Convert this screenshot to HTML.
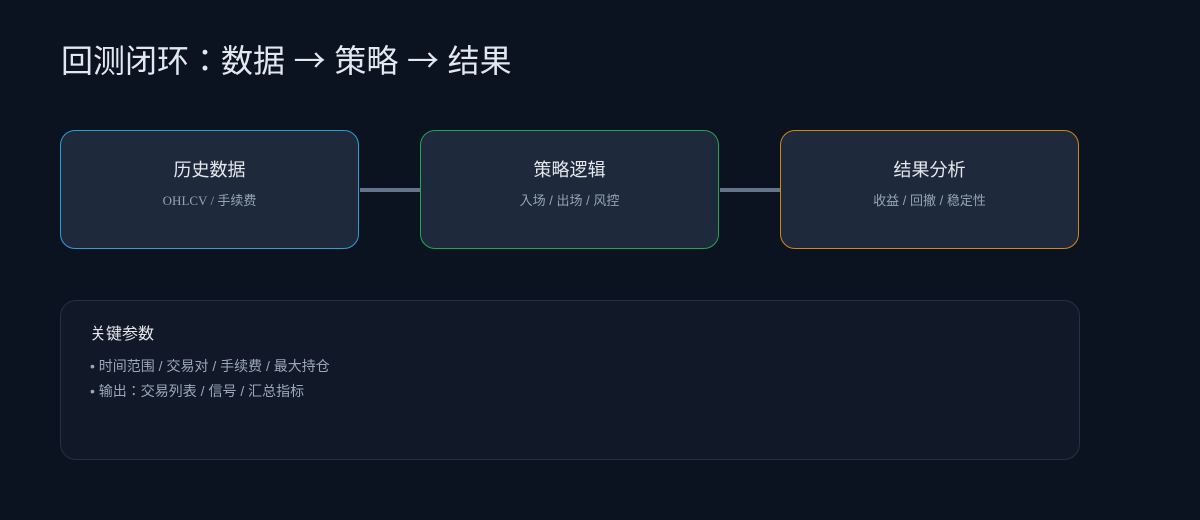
<!DOCTYPE html>
<html>
<head>
<meta charset="utf-8">
<style>
  html,body{margin:0;padding:0;}
  body{width:1200px;height:520px;background:#0b1220;position:relative;overflow:hidden;
    font-family:"Liberation Sans","Noto Sans CJK JP",sans-serif;}
  .abs{position:absolute;}
  .title{left:61px;top:38px;font-size:32px;line-height:42px;color:#e2e8f0;white-space:nowrap;
    font-family:"Noto Sans CJK JP",sans-serif;word-spacing:1.5px;}
  .box{position:absolute;top:130px;width:297px;height:117px;border-radius:15px;background:#1e293b;border:1.5px solid;}
  .bt{position:absolute;left:0;right:0;top:27px;text-align:center;font-size:18px;line-height:24px;color:#e5e7eb;}
  .bs{position:absolute;left:0;right:0;top:61px;text-align:center;font-size:13px;line-height:18px;color:#94a3b8;}
  .conn{position:absolute;top:188px;height:4px;background:#64748b;}
  .panel{position:absolute;left:60px;top:300px;width:1018px;height:158px;border-radius:16px;background:#111827;border:1px solid #263244;}
  .ph{position:absolute;left:90px;top:324px;font-size:16px;line-height:22px;color:#e5e7eb;}
  .li{position:absolute;left:90px;font-size:14px;line-height:20px;color:#9aa8bb;white-space:nowrap;}
</style>
</head>
<body>
  <div class="abs title">回测闭环：数据 → 策略 → 结果</div>

  <div class="conn" style="left:360px;width:60px;"></div>
  <div class="conn" style="left:720px;width:60px;"></div>

  <div class="box" style="left:60px;border-color:#2d9fd6;">
    <div class="bt">历史数据</div>
    <div class="bs" style="font-family:'Liberation Serif','Noto Sans CJK JP',serif;">OHLCV / 手续费</div>
  </div>
  <div class="box" style="left:420px;border-color:#1ea650;">
    <div class="bt">策略逻辑</div>
    <div class="bs">入场 / 出场 / 风控</div>
  </div>
  <div class="box" style="left:780px;border-color:#d4870e;">
    <div class="bt">结果分析</div>
    <div class="bs">收益 / 回撤 / 稳定性</div>
  </div>

  <div class="panel"></div>
  <div class="ph">关键参数</div>
  <div class="li" style="top:356px;">• 时间范围 / 交易对 / 手续费 / 最大持仓</div>
  <div class="li" style="top:381px;">• 输出：交易列表 / 信号 / 汇总指标</div>
</body>
</html>
